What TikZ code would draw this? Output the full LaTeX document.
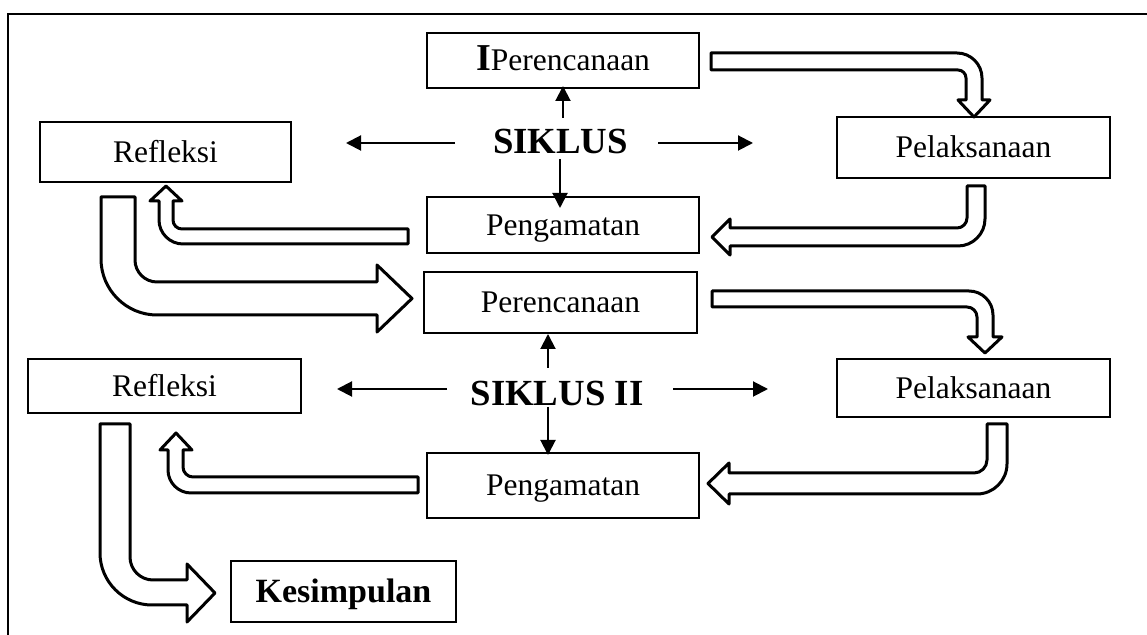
\documentclass[tikz,border=0pt]{standalone}
\usepackage{fontspec}
\setmainfont{Liberation Serif}
\usetikzlibrary{arrows.meta}
\tikzset{
  box/.style={draw, line width=1pt, inner sep=0pt, align=center,
    font=\fontsize{15.75}{18}\selectfont, text height=14.4pt, text depth=4pt},
  boldbox/.style={box, font=\fontsize{17}{20}\selectfont\bfseries, text height=15.3pt},
  cyc/.style={inner sep=0pt, anchor=base, font=\fontsize{18.4}{20}\selectfont\bfseries},
  tarrow/.style={line width=1pt, -{Triangle[length=7.5pt,width=7.5pt]}},
  hollow/.style={draw, line width=1.5pt, line join=round, fill=white},
  frame/.style={line width=1.2pt}
}
\begin{document}
\begin{tikzpicture}[x=0.5pt,y=-0.5pt]
\useasboundingbox (0,0) rectangle (1147,635);
% frame
\draw[frame] (8,635) -- (8,14) -- (1147,14);
% boxes
\node[box, minimum width=136pt, minimum height=27.5pt] (P1) at (563,60.5) {{\fontsize{19}{20}\selectfont\bfseries I}Perencanaan};
\node[box, minimum width=125.5pt, minimum height=30pt] (R1) at (165.5,152) {Refleksi};
\node[box, minimum width=136.5pt, minimum height=30.5pt] (L1) at (973.5,147.5) {Pelaksanaan};
\node[box, minimum width=136pt, minimum height=28pt] (G1) at (563,225) {Pengamatan};
\node[box, minimum width=136.5pt, minimum height=30.5pt] (P2) at (560.5,302.5) {Perencanaan};
\node[box, minimum width=136.5pt, minimum height=27pt] (R2) at (164.5,386) {Refleksi};
\node[box, minimum width=136.5pt, minimum height=29pt] (L2) at (973.5,388) {Pelaksanaan};
\node[box, minimum width=136pt, minimum height=32.5pt] (G2) at (563,485.5) {Pengamatan};
\node[boldbox, minimum width=112.5pt, minimum height=30.5pt] (K) at (343.5,591.5) {Kesimpulan};
% cycle labels
\node[cyc] (S1) at (560.5,154) {SIKLUS};
\node[cyc] (S2) at (557,406) {SIKLUS II};
% thin arrows cycle I
\coordinate (s1u) at (563,118); \coordinate (s1ut) at (563,86);
\coordinate (s1d) at (560,159); \coordinate (s1dt) at (560,208);
\coordinate (s1l) at (455,143); \coordinate (s1lt) at (346,143);
\coordinate (s1r) at (658,143); \coordinate (s1rt) at (753,143);
\draw[tarrow] (s1u) -- (s1ut);
\draw[tarrow] (s1d) -- (s1dt);
\draw[tarrow] (s1l) -- (s1lt);
\draw[tarrow] (s1r) -- (s1rt);
% thin arrows cycle II
\coordinate (s2u) at (548,368); \coordinate (s2ut) at (548,334);
\coordinate (s2d) at (548,407); \coordinate (s2dt) at (548,455);
\coordinate (s2l) at (447,389); \coordinate (s2lt) at (337,389);
\coordinate (s2r) at (673,389); \coordinate (s2rt) at (768,389);
\draw[tarrow] (s2u) -- (s2ut);
\draw[tarrow] (s2d) -- (s2dt);
\draw[tarrow] (s2l) -- (s2lt);
\draw[tarrow] (s2r) -- (s2rt);
% hollow arrows
% A1: Perencanaan I -> Pelaksanaan I
\draw[hollow] (711,53) -- (957,53) .. controls (970.75,53) and (982,64.25) .. (982,78) -- (982,100) -- (990,100) -- (974,117) -- (958,100) -- (966,100) -- (966,78) .. controls (966,73.6) and (962.4,70) .. (958,70) -- (711,70) -- cycle;
% A2: Pelaksanaan I -> Pengamatan I
\draw[hollow] (967,186) -- (985,186) -- (985,219) .. controls (985,233.85) and (972.85,246) .. (958,246) -- (730,246) -- (730,255) -- (712,237) -- (730,219) -- (730,228) -- (957,228) .. controls (962.5,228) and (967,223.5) .. (967,218) -- cycle;
% A3: Pengamatan I -> Refleksi I
\draw[hollow] (408,229) -- (182,229) .. controls (177,229) and (173,225) .. (173,220) -- (173,201) -- (182,201) -- (166,186) -- (150,201) -- (159,201) -- (159,220) .. controls (159,233.2) and (169.8,244) .. (183,244) -- (408,244) -- cycle;
% A4: Refleksi I -> Perencanaan II
\draw[hollow] (101,197) -- (135,197) -- (135,260) .. controls (135,272.1) and (144.9,282) .. (157,282) -- (377,282) -- (377,265) -- (412,298.5) -- (377,332) -- (377,315) -- (157,315) .. controls (126.2,315) and (101,289.8) .. (101,259) -- cycle;
% A5: Perencanaan II -> Pelaksanaan II
\draw[hollow] (712,291) -- (969,291) .. controls (982.2,291) and (993,301.8) .. (993,315) -- (993,337) -- (1002,337) -- (985,353) -- (968,337) -- (977,337) -- (977,317) .. controls (977,311.5) and (972.5,307) .. (967,307) -- (712,307) -- cycle;
% A6: Pelaksanaan II -> Pengamatan II
\draw[hollow] (987,424) -- (1007,424) -- (1007,464) .. controls (1007,480.5) and (993.5,494) .. (977,494) -- (729,494) -- (729,504) -- (708,483.5) -- (729,463) -- (729,473) -- (974,473) .. controls (981.15,473) and (987,467.15) .. (987,460) -- cycle;
% A7: Pengamatan II -> Refleksi II
\draw[hollow] (418,477) -- (193,477) .. controls (187.5,477) and (183,472.5) .. (183,467) -- (183,450) -- (192,450) -- (176,433) -- (160,450) -- (168,450) -- (168,470) .. controls (168,482.65) and (178.35,493) .. (191,493) -- (418,493) -- cycle;
% A8: Refleksi II -> Kesimpulan
\draw[hollow] (100,424) -- (130,424) -- (130,557) .. controls (130,569.65) and (140.35,580) .. (153,580) -- (187,580) -- (187,564) -- (215,593) -- (187,622) -- (187,605) -- (152,605) .. controls (123.4,605) and (100,581.6) .. (100,553) -- cycle;
\end{tikzpicture}
\end{document}
